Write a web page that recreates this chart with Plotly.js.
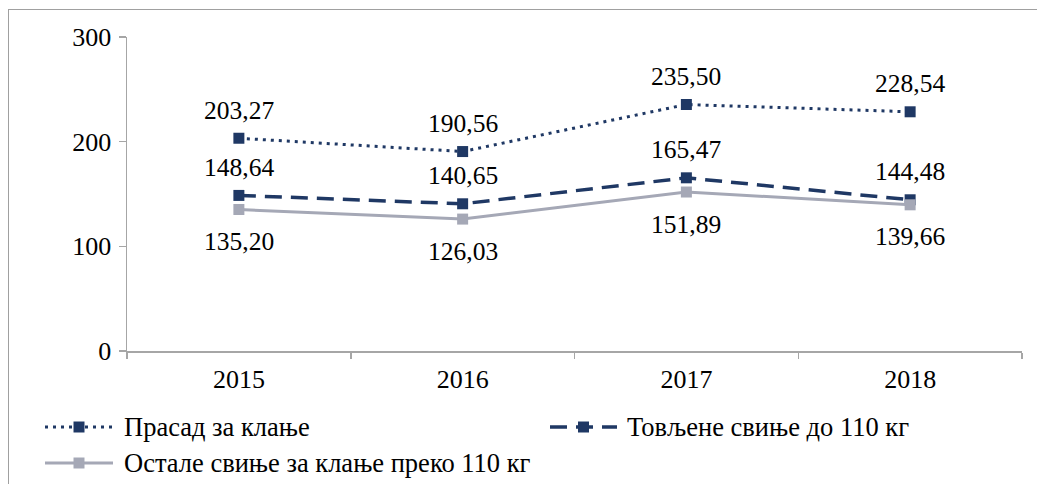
<!DOCTYPE html>
<html>
<head>
<meta charset="utf-8">
<script src="https://cdn.plot.ly/plotly-3.0.1.min.js"></script>
<style>
html,body{margin:0;padding:0;background:#fff;}
#wrap{position:relative;width:1037px;height:484px;overflow:hidden;}
#chart{position:absolute;left:0;top:0;width:1037px;height:484px;}
#frame{position:absolute;left:8px;top:9px;width:1100px;height:600px;border:1.5px solid #a0a0a0;pointer-events:none;}
</style>
</head>
<body>
<div id="wrap"><div id="chart"></div><div id="frame"></div></div>
<script>
const years = ['2015','2016','2017','2018'];
const seriesNames = ['Прасад за клање','Товљене свиње до 110 кг','Остале свиње за клање преко 110 кг'];
const prasad = [203.27, 190.56, 235.50, 228.54];
const tovljene = [148.64, 140.65, 165.47, 144.48];
const ostale = [135.20, 126.03, 151.89, 139.66];
const yTicks = [0, 100, 200, 300];

const FONT = "'Liberation Serif', 'Times New Roman', serif";
const NAVY = '#1f3864';
const GREY = '#a5a8b6';

const fmt = v => v.toFixed(2).replace('.', ',');

const styles = [
  {color: NAVY, dash: '3px,5px', width: 3},
  {color: NAVY, dash: '17px,9px', width: 3.5},
  {color: GREY, dash: 'solid', width: 3}
];
const allSeries = [prasad, tovljene, ostale];
const labelShift = [28, 28, -32];

const traces = allSeries.map((vals, i) => ({
  x: years, y: vals, type: 'scatter', mode: 'lines+markers', name: seriesNames[i],
  line: {color: styles[i].color, dash: styles[i].dash, width: styles[i].width},
  marker: {symbol: 'square', size: 11, color: styles[i].color},
  showlegend: false, hoverinfo: 'skip'
}));

const annotations = [];
allSeries.forEach((vals, i) => {
  vals.forEach((v, j) => {
    annotations.push({x: j, y: v, xref: 'x', yref: 'y', text: fmt(v), showarrow: false,
      yshift: labelShift[i], xanchor: 'center', yanchor: 'middle',
      font: {family: FONT, size: 25.5, color: '#000'}});
  });
});

// custom legend (pixel geometry converted to paper coords)
const PL = 127, PW = 895, PT = 37, PH = 314;
const toPx = x => (x - PL) / PW;
const toPy = y => (PT + PH - y) / PH;
const legendItems = [
  {x0: 45, x1: 113, y: 427, tx: 122},
  {x0: 550, x1: 617, y: 427, tx: 625},
  {x0: 45, x1: 113, y: 463, tx: 122}
];
const shapes = [];
legendItems.forEach((it, i) => {
  shapes.push({type: 'line', xref: 'paper', yref: 'paper', x0: toPx(it.x0), x1: toPx(it.x1), y0: toPy(it.y), y1: toPy(it.y),
    line: {color: styles[i].color, width: styles[i].width, dash: styles[i].dash}});
  shapes.push({type: 'rect', xref: 'paper', yref: 'paper', xsizemode: 'pixel', ysizemode: 'pixel',
    xanchor: toPx((it.x0 + it.x1) / 2), yanchor: toPy(it.y), x0: -5.5, x1: 5.5, y0: -5.5, y1: 5.5,
    fillcolor: styles[i].color, line: {width: 0}});
  annotations.push({xref: 'paper', yref: 'paper', x: toPx(it.tx), y: toPy(it.y), xanchor: 'left', yanchor: 'middle',
    text: seriesNames[i], showarrow: false, font: {family: FONT, size: 26.5, color: '#000'}});
});

const layout = {
  width: 1037, height: 484,
  margin: {l: PL, r: 1037 - PL - PW, t: PT, b: 484 - PT - PH},
  paper_bgcolor: '#fff', plot_bgcolor: '#fff',
  showlegend: false,
  font: {family: FONT, size: 26, color: '#000'},
  xaxis: {type: 'category', range: [-0.5, 3.5], autorange: false, showgrid: false, zeroline: false,
    showline: true, linecolor: '#a6a6a6', linewidth: 1.5,
    ticks: 'outside', tickson: 'boundaries', ticklen: 6, tickcolor: '#a6a6a6', tickwidth: 1.5,
    ticklabelstandoff: 4, tickangle: 0,
    tickfont: {family: FONT, size: 26, color: '#000'}},
  yaxis: {range: [0, 300], autorange: false, tickvals: yTicks, showgrid: false, zeroline: false,
    showline: true, linecolor: '#a6a6a6', linewidth: 1.5,
    ticks: 'outside', ticklen: 7, tickcolor: '#a6a6a6', tickwidth: 1.5,
    ticklabelstandoff: 2,
    tickfont: {family: FONT, size: 26, color: '#000'}},
  shapes: shapes,
  annotations: annotations
};

Plotly.newPlot('chart', traces, layout, {staticPlot: true, displayModeBar: false});
</script>
</body>
</html>
